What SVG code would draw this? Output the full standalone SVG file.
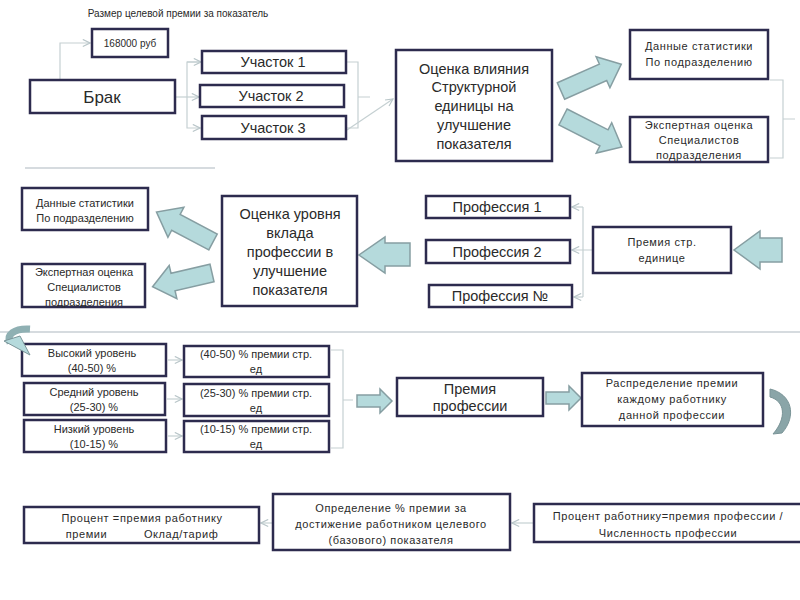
<svg xmlns="http://www.w3.org/2000/svg" width="800" height="600" viewBox="0 0 800 600">
<defs>
<style>
.box{fill:#fff;stroke:#2d2b4e;stroke-width:2.5}
.t{font-family:"Liberation Sans",Arial,sans-serif;fill:#2a2a2a;text-anchor:middle}
.s10{font-size:10px}
.s11{font-size:11px;letter-spacing:0.6px}
.s14{font-size:14.5px}
.s16{font-size:17px}
.ln{fill:none;stroke:#c5d0d2;stroke-width:1.2}
.fat{fill:#b5dadc;stroke:#869ea2;stroke-width:1.5;stroke-linejoin:miter}
.sep{stroke:#c9cfd4;stroke-width:1.5}
</style>
<marker id="ah" viewBox="0 0 10 10" refX="9" refY="5" markerWidth="9" markerHeight="9" orient="auto" markerUnits="userSpaceOnUse">
<path d="M1,1 L9,5 L1,9" fill="none" stroke="#b9c6c9" stroke-width="1.3"/>
</marker>
</defs>
<rect width="800" height="600" fill="#fff"/>

<text class="t s10" x="178" y="17">Размер целевой премии за показатель</text>
<line class="sep" x1="25" y1="168" x2="215" y2="168"/>
<line class="sep" x1="0" y1="332" x2="800" y2="332"/>

<g id="connectors">
<path class="ln" d="M60,80 V43 H90" marker-end="url(#ah)"/>
<path class="ln" d="M175,97 H199" marker-end="url(#ah)"/>
<path class="ln" d="M199,62 H187 V128 H200" marker-end="url(#ah)"/>
<path class="ln" d="M187,62 H201" marker-end="url(#ah)"/>
<path class="ln" d="M346,62 H358 V128 H346 M358,97 H370"/>
<path class="ln" d="M347,130 L393,99" marker-end="url(#ah)"/>
<path class="ln" d="M770,80 H783 V158 H770 M783,119 H795"/>
<path class="ln" d="M583,207 V297 M593,250 H572" marker-end="url(#ah)"/>
<path class="ln" d="M583,207 H572" marker-end="url(#ah)"/>
<path class="ln" d="M583,297 H574" marker-end="url(#ah)"/>
<path class="ln" d="M168,360 H182" marker-end="url(#ah)"/>
<path class="ln" d="M167,399 H182" marker-end="url(#ah)"/>
<path class="ln" d="M168,436 H182" marker-end="url(#ah)"/>
<path class="ln" d="M331,350 H343 V448 H331 M343,400 H353"/>
<path class="ln" d="M534,523 H512" marker-end="url(#ah)"/>
<path class="ln" d="M272,523 H261" marker-end="url(#ah)"/>
<!-- fat arrows -->
<path class="fat" transform="translate(561,91) rotate(-24)" d="M0,-9 L46,-9 L46,-17 L66,0 L46,17 L46,9 L0,9 Z"/>
<path class="fat" transform="translate(563,117) rotate(27)" d="M0,-9 L46,-9 L46,-17 L66,0 L46,17 L46,9 L0,9 Z"/>
<path class="fat" transform="translate(213,242) rotate(-152)" d="M0,-9 L42,-9 L42,-17 L64,0 L42,17 L42,9 L0,9 Z"/>
<path class="fat" transform="translate(212,273) rotate(167)" d="M0,-9 L40,-9 L40,-17 L61,0 L40,17 L40,9 L0,9 Z"/>
<path class="fat" d="M410,243 L385,243 L385,237 L359,255 L385,273 L385,266 L410,266 Z"/>
<path class="fat" d="M782,238 L760,238 L760,231 L734,250 L760,269 L760,262 L782,262 Z"/>
<path class="fat" d="M357,395 L380,395 L380,389 L392,401 L380,413 L380,407 L357,407 Z"/>
<path class="fat" d="M546,392 L569,392 L569,386 L581,398 L569,410 L569,404 L546,404 Z"/>
<path d="M30,329 C14,328 6,335 10,343" fill="none" stroke="#8fb0b3" stroke-width="7"/>
</g>

<g id="n-168000"><rect class="box" x="92" y="29" width="76" height="28"/><text class="t s10" x="130" y="47">168000 руб</text></g>
<g id="n-brak"><rect class="box" x="30" y="80" width="145" height="33"/><text class="t s16" x="102" y="103">Брак</text></g>
<g id="n-uch1"><rect class="box" x="202" y="51" width="144" height="22"/><text class="t s14" x="273" y="67">Участок 1</text></g>
<g id="n-uch2"><rect class="box" x="200" y="85" width="144" height="22"/><text class="t s14" x="271" y="101">Участок 2</text></g>
<g id="n-uch3"><rect class="box" x="202" y="116" width="144" height="23"/><text class="t s14" x="273" y="133">Участок 3</text></g>
<g id="n-ocenka1"><rect class="box" x="396" y="50" width="156" height="111"/>
<text class="t s14" x="474" y="74">Оценка влияния</text>
<text class="t s14" x="474" y="92">Структурной</text>
<text class="t s14" x="474" y="111">единицы на</text>
<text class="t s14" x="474" y="130">улучшение</text>
<text class="t s14" x="474" y="149">показателя</text></g>
<g id="n-dannye1"><rect class="box" x="630" y="30" width="138" height="49"/>
<text class="t s11" x="699" y="50">Данные статистики</text>
<text class="t s11" x="699" y="66">По подразделению</text></g>
<g id="n-ekspert1"><rect class="box" x="630" y="117" width="138" height="45"/>
<text class="t s11" x="699" y="129">Экспертная оценка</text>
<text class="t s11" x="699" y="144">Специалистов</text>
<text class="t s11" x="699" y="159">подразделения</text></g>

<g id="n-dannye2"><rect class="box" x="22" y="188" width="126" height="42"/>
<text class="t s11" x="85" y="207" style="letter-spacing:0">Данные статистики</text>
<text class="t s11" x="85" y="222" style="letter-spacing:0">По подразделению</text></g>
<g id="n-ekspert2"><rect class="box" x="22" y="264" width="123" height="43"/>
<text class="t s11" x="84" y="276" style="letter-spacing:0">Экспертная оценка</text>
<text class="t s11" x="84" y="291" style="letter-spacing:0">Специалистов</text>
<text class="t s11" x="84" y="306" style="letter-spacing:0">подразделения</text></g>
<g id="n-ocenka2"><rect class="box" x="222" y="196" width="135" height="110"/>
<text class="t s14" x="290" y="219">Оценка уровня</text>
<text class="t s14" x="290" y="238">вклада</text>
<text class="t s14" x="290" y="257">профессии в</text>
<text class="t s14" x="290" y="276">улучшение</text>
<text class="t s14" x="290" y="295">показателя</text></g>
<g id="n-prof1"><rect class="box" x="426" y="196" width="144" height="22"/><text class="t s14" x="497" y="212">Профессия 1</text></g>
<g id="n-prof2"><rect class="box" x="426" y="240" width="144" height="23"/><text class="t s14" x="497" y="257">Профессия 2</text></g>
<g id="n-profN"><rect class="box" x="429" y="285" width="143" height="22"/><text class="t s14" x="500" y="301">Профессия №</text></g>
<g id="n-premiya-ed"><rect class="box" x="593" y="227" width="138" height="46"/>
<text class="t s11" x="662" y="246">Премия стр.</text>
<text class="t s11" x="662" y="262">единице</text></g>

<g id="n-vys"><rect class="box" x="22" y="344" width="144" height="32"/>
<text class="t s11" x="92" y="357" style="letter-spacing:0">Высокий уровень</text>
<text class="t s11" x="92" y="372" style="letter-spacing:0">(40-50) %</text></g>
<g id="n-sred"><rect class="box" x="24" y="383" width="141" height="32"/>
<text class="t s11" x="94" y="396" style="letter-spacing:0">Средний уровень</text>
<text class="t s11" x="94" y="411" style="letter-spacing:0">(25-30) %</text></g>
<g id="n-niz"><rect class="box" x="24" y="420" width="142" height="32"/>
<text class="t s11" x="94" y="433" style="letter-spacing:0">Низкий уровень</text>
<text class="t s11" x="94" y="448" style="letter-spacing:0">(10-15) %</text></g>
<g id="n-p1"><rect class="box" x="184" y="346" width="145" height="31"/>
<text class="t s11" x="256" y="358" style="letter-spacing:0">(40-50) % премии стр.</text>
<text class="t s11" x="256" y="373" style="letter-spacing:0">ед</text></g>
<g id="n-p2"><rect class="box" x="184" y="384" width="145" height="32"/>
<text class="t s11" x="256" y="397" style="letter-spacing:0">(25-30) % премии стр.</text>
<text class="t s11" x="256" y="412" style="letter-spacing:0">ед</text></g>
<g id="n-p3"><rect class="box" x="184" y="421" width="145" height="31"/>
<text class="t s11" x="256" y="433" style="letter-spacing:0">(10-15) % премии стр.</text>
<text class="t s11" x="256" y="448" style="letter-spacing:0">ед</text></g>
<g id="n-premiya-prof"><rect class="box" x="397" y="378" width="146" height="38"/>
<text class="t s14" x="470" y="394">Премия</text>
<text class="t s14" x="470" y="411">профессии</text></g>
<g id="n-raspr"><rect class="box" x="582" y="373" width="181" height="53"/>
<text class="t s11" x="672" y="387">Распределение премии</text>
<text class="t s11" x="672" y="403">каждому работнику</text>
<text class="t s11" x="672" y="419">данной профессии</text></g>

<g id="n-procent"><rect class="box" x="24" y="507" width="235" height="36"/>
<text class="t s11" x="142" y="522">Процент =премия работнику</text>
<text class="t s11" x="142" y="538" xml:space="preserve">премии          Оклад/тариф</text></g>
<g id="n-opred"><rect class="box" x="273" y="494" width="237" height="56"/>
<text class="t s11" x="391" y="512">Определение % премии за</text>
<text class="t s11" x="391" y="528">достижение работником целевого</text>
<text class="t s11" x="391" y="544">(базового) показателя</text></g>
<g id="n-proc-rab"><rect class="box" x="534" y="504" width="268" height="38"/>
<text class="t s11" x="668" y="520">Процент работнику=премия профессии /</text>
<text class="t s11" x="668" y="537">Численность профессии</text></g>

<g id="curves">
<path d="M4,341 L20,336 L30,355 Z" fill="#b5dadc" stroke="#7b9599" stroke-width="1"/>
<path d="M770,389 C792,394 797,416 782,433 L773,434 C787,418 785,401 770,397 Z" fill="#8aa5a8" stroke="#7a9497" stroke-width="1"/>
</g>
</svg>
